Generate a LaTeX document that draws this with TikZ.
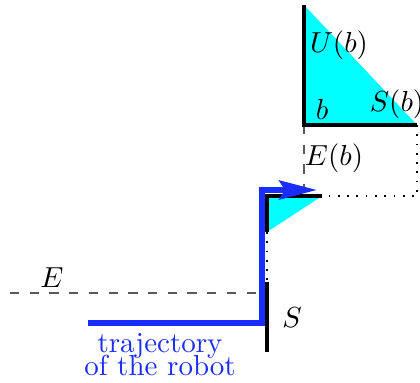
\documentclass[tikz,border=0pt]{standalone}
\usepackage{tikz}
\usetikzlibrary{arrows.meta,positioning,calc}
\definecolor{robotblue}{RGB}{25,45,255}
\definecolor{conecyan}{RGB}{0,255,255}
\tikzset{
  wall/.style={line width=1.1pt, draw=black},
  cone/.style={fill=conecyan},
  guide/.style={draw=black!65, line width=0.45pt, dash pattern=on 3.2pt off 3.6pt},
  dotline/.style={draw=black, line width=0.6pt, dash pattern=on 0.6pt off 2.6pt},
  traj/.style={draw=robotblue, line width=2.1pt, -{Stealth[length=13pt,width=6.5pt,inset=2pt]}},
  lbl/.style={inner sep=0pt},
  robottext/.style={inner sep=0pt, align=center, text=robotblue,
    font={\fontsize{10pt}{8pt}\selectfont\lineskiplimit=-8pt}}
}

\begin{document}
\begin{tikzpicture}[x=0.345pt, y=-0.345pt]
  \useasboundingbox (0,0) rectangle (420,383);

  % corners of the obstacle
  \coordinate (top) at (304,5);
  \coordinate (b) at (304,125);
  \coordinate (sb) at (417,125);
  \coordinate (br) at (417,196);
  \coordinate (c) at (267,196);
  \coordinate (cr) at (322,196);
  \coordinate (cd) at (267,232);
  \coordinate (stop) at (267,282);
  \coordinate (sbot) at (267,352);
  \coordinate (eleft) at (10,293);
  \coordinate (eright) at (267,293);

  % cones
  \fill[cone] (top) -- (b) -- (sb) -- cycle;
  \fill[cone] (c) -- (cr) -- (cd) -- cycle;

  % dashed and dotted guides
  \draw[guide] (b) -- (b |- c);
  \draw[guide] (eleft) -- (eright);
  \draw[dotline] (sb) -- (br) -- (cr);
  \draw[dotline] (cd) -- (stop);

  % walls
  \draw[wall] (top) -- (b) -- (sb);
  \draw[wall] (cd) -- (c) -- (cr);
  \draw[wall] (stop) -- (sbot);

  % trajectory of the robot
  \coordinate (r0) at (88,323);
  \coordinate (r1) at (262,323);
  \coordinate (r2) at (262,190);
  \coordinate (r3) at (317,190);
  \draw[traj] (r0) -- (r1) -- (r2) -- (r3);

  % labels
  \node[lbl] (ulbl) at (339,45) {$U(b)$};
  \node[lbl] (blbl) at (322,109) {$b$};
  \node[lbl] (sblbl) at (397,104) {$S(b)$};
  \node[lbl] (eblbl) at (334,158) {$E(b)$};
  \node[lbl] (elbl) at (52,278) {$E$};
  \node[lbl] (slbl) at (292,318) {$S$};
  \node[robottext] (trajlbl) at (160,355) {trajectory\\of the robot};
\end{tikzpicture}
\end{document}
